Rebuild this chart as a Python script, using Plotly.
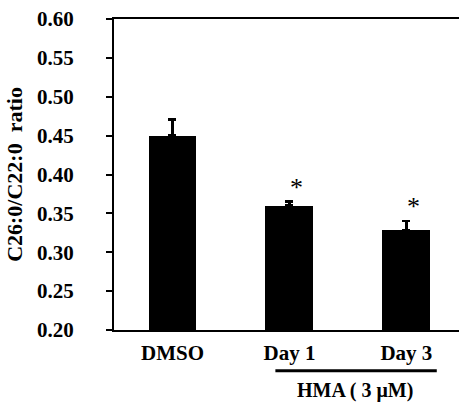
import plotly.graph_objects as go

categories = ["DMSO", "Day 1", "Day 3"]
values = [0.450, 0.360, 0.328]
errors = [0.021, 0.005, 0.012]
sig = ["", "*", "*"]
y_ticks = [0.20, 0.25, 0.30, 0.35, 0.40, 0.45, 0.50, 0.55, 0.60]
y_ticklabels = [f"{v:.2f}" for v in y_ticks]
group_label = "HMA ( 3 μM)"
y_title = "C26:0/C22:0  ratio"

FONT = "Liberation Serif"

fig = go.Figure()
fig.add_trace(go.Bar(
    x=categories, y=values, width=0.41,
    marker=dict(color="black", line=dict(width=0)),
    error_y=dict(type="data", array=errors, arrayminus=[0]*len(errors),
                 color="black", thickness=2.5, width=4),
    showlegend=False, hoverinfo="skip",
))

for c, v, e, s in zip(categories, values, errors, sig):
    if s:
        fig.add_annotation(x=c, y=v + e, text=s, showarrow=False,
                           yanchor="bottom", xshift=7, yshift=-2,
                           font=dict(family=FONT, size=26, color="#000000"))

fig.add_shape(type="line", xref="x", yref="paper", x0=0.88, x1=2.26,
              y0=-0.131, y1=-0.131, line=dict(color="black", width=3))
fig.add_annotation(x=1.56, xref="x", y=-0.193, yref="paper", text=group_label,
                   showarrow=False, yanchor="middle",
                   font=dict(family=FONT, size=20, color="black", weight="bold"))

fig.update_layout(
    width=460, height=407,
    margin=dict(l=114, r=1, t=19, b=77),
    plot_bgcolor="white", paper_bgcolor="white",
    bargap=0,
)
fig.update_xaxes(
    range=[-0.5, 2.45], showline=True, linecolor="black", linewidth=2,
    mirror=True, ticks="", ticklabelstandoff=3, automargin=False,
    tickfont=dict(family=FONT, size=21, color="black", weight="bold"),
    showgrid=False,
)
fig.update_yaxes(
    range=[0.20, 0.60], tickvals=y_ticks, ticktext=y_ticklabels,
    showline=True, linecolor="black", linewidth=2, ticks="outside",
    ticklen=6, tickwidth=2, tickcolor="black", showgrid=False, zeroline=False,
    tickfont=dict(family=FONT, size=21, color="black", weight="bold"),
    ticklabelstandoff=28, automargin=False,
    title=dict(text=y_title, standoff=8,
               font=dict(family=FONT, size=22, color="black", weight="bold")),
)

fig.write_html("out.html", config={"displayModeBar": False},
               post_script="document.body.style.margin='0';")
